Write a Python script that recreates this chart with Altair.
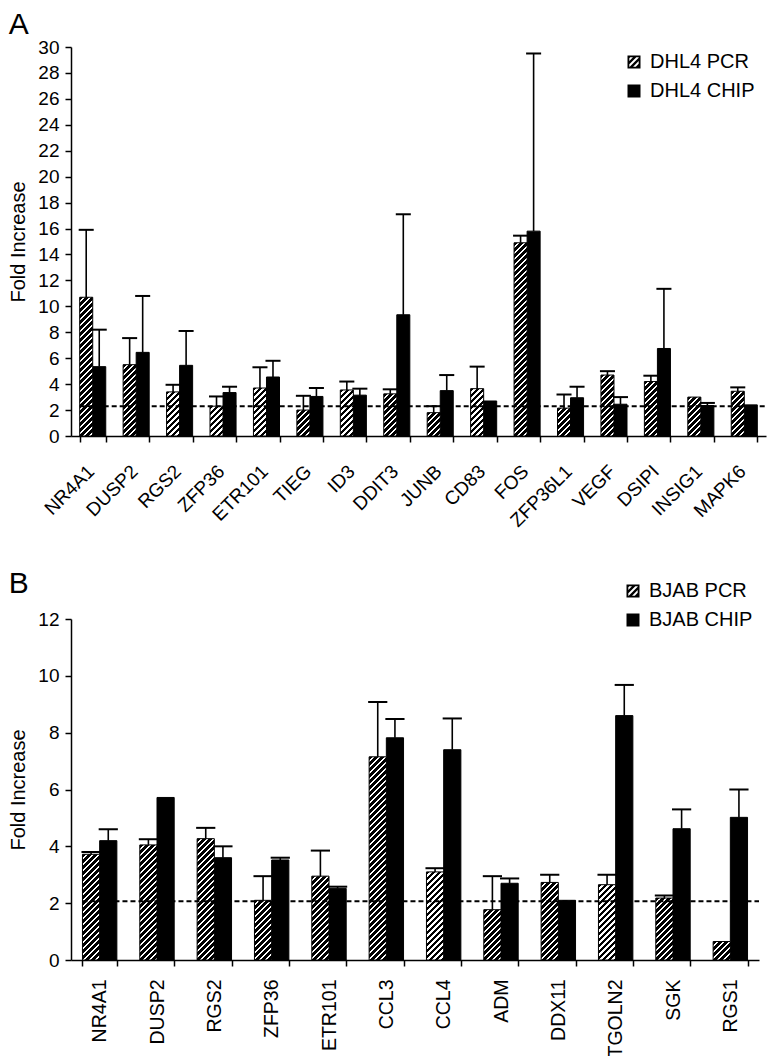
import altair as alt
import pandas as pd

FONT = "Liberation Sans"

# ---------------- Panel A data ----------------
genes_a = ["NR4A1", "DUSP2", "RGS2", "ZFP36", "ETR101", "TIEG", "ID3", "DDIT3",
           "JUNB", "CD83", "FOS", "ZFP36L1", "VEGF", "DSIPI", "INSIG1", "MAPK6"]
pcr_a = [10.7, 5.5, 3.4, 2.3, 3.7, 2.0, 3.55, 3.25, 1.8, 3.65, 14.9, 2.15, 4.7, 4.2, 3.0, 3.45]
pcr_a_err = [15.9, 7.55, 3.95, 3.05, 5.3, 3.1, 4.2, 3.6, 2.3, 5.35, 15.45, 3.2, 5.0, 4.65, None, 3.75]
chip_a = [5.35, 6.45, 5.45, 3.35, 4.55, 3.05, 3.15, 9.35, 3.5, 2.7, 15.8, 2.95, 2.45, 6.75, 2.35, 2.4]
chip_a_err = [8.2, 10.8, 8.1, 3.8, 5.8, 3.7, 3.65, 17.1, 4.7, None, 29.5, 3.8, 3.0, 11.35, 2.55, None]
thresh_a = 2.3
legend_a = ["DHL4 PCR", "DHL4 CHIP"]

# ---------------- Panel B data ----------------
genes_b = ["NR4A1", "DUSP2", "RGS2", "ZFP36", "ETR101", "CCL3", "CCL4", "ADM",
           "DDX11", "TGOLN2", "SGK", "RGS1"]
pcr_b = [3.72, 4.05, 4.27, 2.1, 2.95, 7.15, 3.1, 1.77, 2.73, 2.65, 2.18, 0.65]
pcr_b_err = [3.8, 4.25, 4.65, 2.95, 3.85, 9.08, 3.23, 2.95, 3.0, 3.0, 2.27, None]
chip_b = [4.2, 5.72, 3.6, 3.52, 2.52, 7.82, 7.4, 2.7, 2.1, 8.6, 4.62, 5.02]
chip_b_err = [4.6, None, 4.0, 3.6, 2.58, 8.48, 8.5, 2.87, None, 9.68, 5.3, 6.0]
thresh_b = 2.07
legend_b = ["BJAB PCR", "BJAB CHIP"]


def hatch_gradient(w, h, period=6.0, white=2.5):
    """Linear gradient (bounding-box units) that draws 45-degree '/' stripes."""
    L = w + h
    s = L / (w * w + h * h)
    stops = []
    i = 0
    while True:
        a = i * period / L
        b = (i * period + (period - white)) / L
        c = (i + 1) * period / L
        for off, col in ((a, "black"), (b, "black"), (b, "white"), (c, "white")):
            stops.append({"offset": min(off, 1.0), "color": col})
        if c >= 1.0:
            break
        i += 1
    return {"gradient": "linear", "x1": 0, "y1": 0, "x2": s * w, "y2": s * h, "stops": stops}


def clip(poly, a, b, c):
    out = []
    for i in range(len(poly)):
        p = poly[i]
        q = poly[(i + 1) % len(poly)]
        fp = a * p[0] + b * p[1] + c
        fq = a * q[0] + b * q[1] + c
        if fp >= 0:
            out.append(p)
        if (fp >= 0) != (fq >= 0):
            t = fp / (fp - fq)
            out.append((p[0] + t * (q[0] - p[0]), p[1] + t * (q[1] - p[1])))
    return out


def hatch_symbol():
    path = "M-1,-1L1,-1L1,1L-1,1Z"
    e = 0.72
    inner = [(-e, -e), (e, -e), (e, e), (-e, e)]
    for c1, c2 in ((-1.3, -0.88), (-0.36, 0.06), (0.58, 1.0)):
        poly = clip(inner, 1, 1, -c1)
        poly = clip(poly, -1, -1, c2)
        if len(poly) < 3:
            continue
        area = sum(poly[k][0] * poly[(k + 1) % len(poly)][1] - poly[(k + 1) % len(poly)][0] * poly[k][1]
                   for k in range(len(poly)))
        if area > 0:
            poly = poly[::-1]
        path += "M" + "L".join(f"{x:.3f},{y:.3f}" for x, y in poly) + "Z"
    return path


def panel(genes, pcr, pcr_err, chip, chip_err, ymax, W, H, angle, lab_pad, lab_off, lab_size,
          leg_names, leg_x, leg_y, thresh, letter, title_offset):
    rows = []
    for g, v, e in zip(genes, pcr, pcr_err):
        rows.append({"gene": g, "series": "PCR", "value": v, "err": e})
    for g, v, e in zip(genes, chip, chip_err):
        rows.append({"gene": g, "series": "CHIP", "value": v, "err": e})
    df = pd.DataFrame(rows)
    n = len(genes)
    step = W / n
    barw = step * 0.3

    xenc = alt.X("gene:N", sort=genes,
                 scale=alt.Scale(domain=genes, paddingInner=0.4, paddingOuter=0.2),
                 axis=alt.Axis(title=None, labelAngle=angle, labelAlign="right",
                               labelBaseline="middle", tickBand="extent",
                               labelPadding=lab_pad, labelOffset=lab_off,
                               labelFontSize=lab_size))
    xoff = alt.XOffset("series:N",
                       scale=alt.Scale(domain=["PCR", "CHIP"], paddingInner=0, paddingOuter=0))
    yscale = alt.Scale(domain=[0, ymax], nice=False)
    yaxis = alt.Axis(title="Fold Increase", values=list(range(0, ymax + 1, 2)), grid=False)

    def Y(field):
        return alt.Y(field, scale=yscale, axis=yaxis)

    base = alt.Chart(df)
    layers = []
    layers.append(base.transform_filter("datum.series == 'CHIP'")
                  .mark_bar(color="black", stroke="black", strokeWidth=1)
                  .encode(x=xenc, xOffset=xoff, y=Y("value:Q")))
    for g, v in zip(genes, pcr):
        h = v / ymax * H
        layers.append(base.transform_filter(f"datum.series == 'PCR' && datum.gene == '{g}'")
                      .mark_bar(fill=hatch_gradient(barw, h), stroke="black", strokeWidth=1)
                      .encode(x=xenc, xOffset=xoff, y=Y("value:Q")))
    errs = base.transform_filter("isValid(datum.err)")
    layers.append(errs.mark_rule(color="black", strokeWidth=1.6)
                  .encode(x=xenc, xOffset=xoff, y=Y("value:Q"), y2="err:Q"))
    layers.append(errs.mark_tick(color="black", thickness=2, size=barw + 2, opacity=1)
                  .encode(x=xenc, xOffset=xoff, y=Y("err:Q")))
    layers.append(alt.Chart(pd.DataFrame({"t": [thresh]}))
                  .mark_rule(color="black", strokeWidth=2, strokeDash=[5, 3])
                  .encode(y=Y("t:Q"), x=alt.value(step * 0.2), x2=alt.value(W)))
    leg_df = pd.DataFrame({"name": leg_names})
    layers.append(alt.Chart(leg_df).transform_filter("false")
                  .mark_point(filled=True, color="black", opacity=1, size=169)
                  .encode(shape=alt.Shape("name:N",
                                          scale=alt.Scale(domain=leg_names,
                                                          range=[hatch_symbol(), "square"]),
                                          legend=alt.Legend(title=None, orient="none",
                                                            legendX=leg_x, legendY=leg_y,
                                                            labelFont=FONT, labelFontSize=20,
                                                            labelColor="black",
                                                            symbolSize=169, symbolStrokeWidth=0,
                                                            symbolFillColor="black",
                                                            symbolOpacity=1,
                                                            rowPadding=9, labelOffset=6))))
    return alt.layer(*layers).properties(
        width=W, height=H,
        title=alt.TitleParams(letter, anchor="start", frame="bounds", fontSize=30,
                              font=FONT, fontWeight="normal", color="black",
                              offset=title_offset))


chart_a = panel(genes_a, pcr_a, pcr_a_err, chip_a, chip_a_err, 30, 695, 389, -45, 26, -2, 19,
                legend_a, 553, 5, thresh_a, "A", -2)
chart_b = panel(genes_b, pcr_b, pcr_b_err, chip_b, chip_b_err, 12, 688, 341, -90, 13, 0, 19.5,
                legend_b, 552, -38, thresh_b, "B", -18)

chart = (alt.vconcat(chart_a, chart_b, spacing=38)
         .resolve_scale(x="independent", y="independent", shape="independent",
                        xOffset="independent")
         .resolve_legend(shape="independent")
         .properties(padding={"left": 0, "top": 2, "right": 0, "bottom": 0})
         .configure_view(stroke=None)
         .configure_axis(labelFont=FONT, labelFontSize=19, labelColor="black",
                         titleFont=FONT, titleFontSize=20, titleFontWeight="normal",
                         titleColor="black", titlePadding=9,
                         domainColor="black", domainWidth=1.5, tickColor="black",
                         tickWidth=1.5, tickSize=6, grid=False)
         .configure_axisY(labelPadding=6))

chart.save("out.html", embed_options={"renderer": "svg", "actions": False})
